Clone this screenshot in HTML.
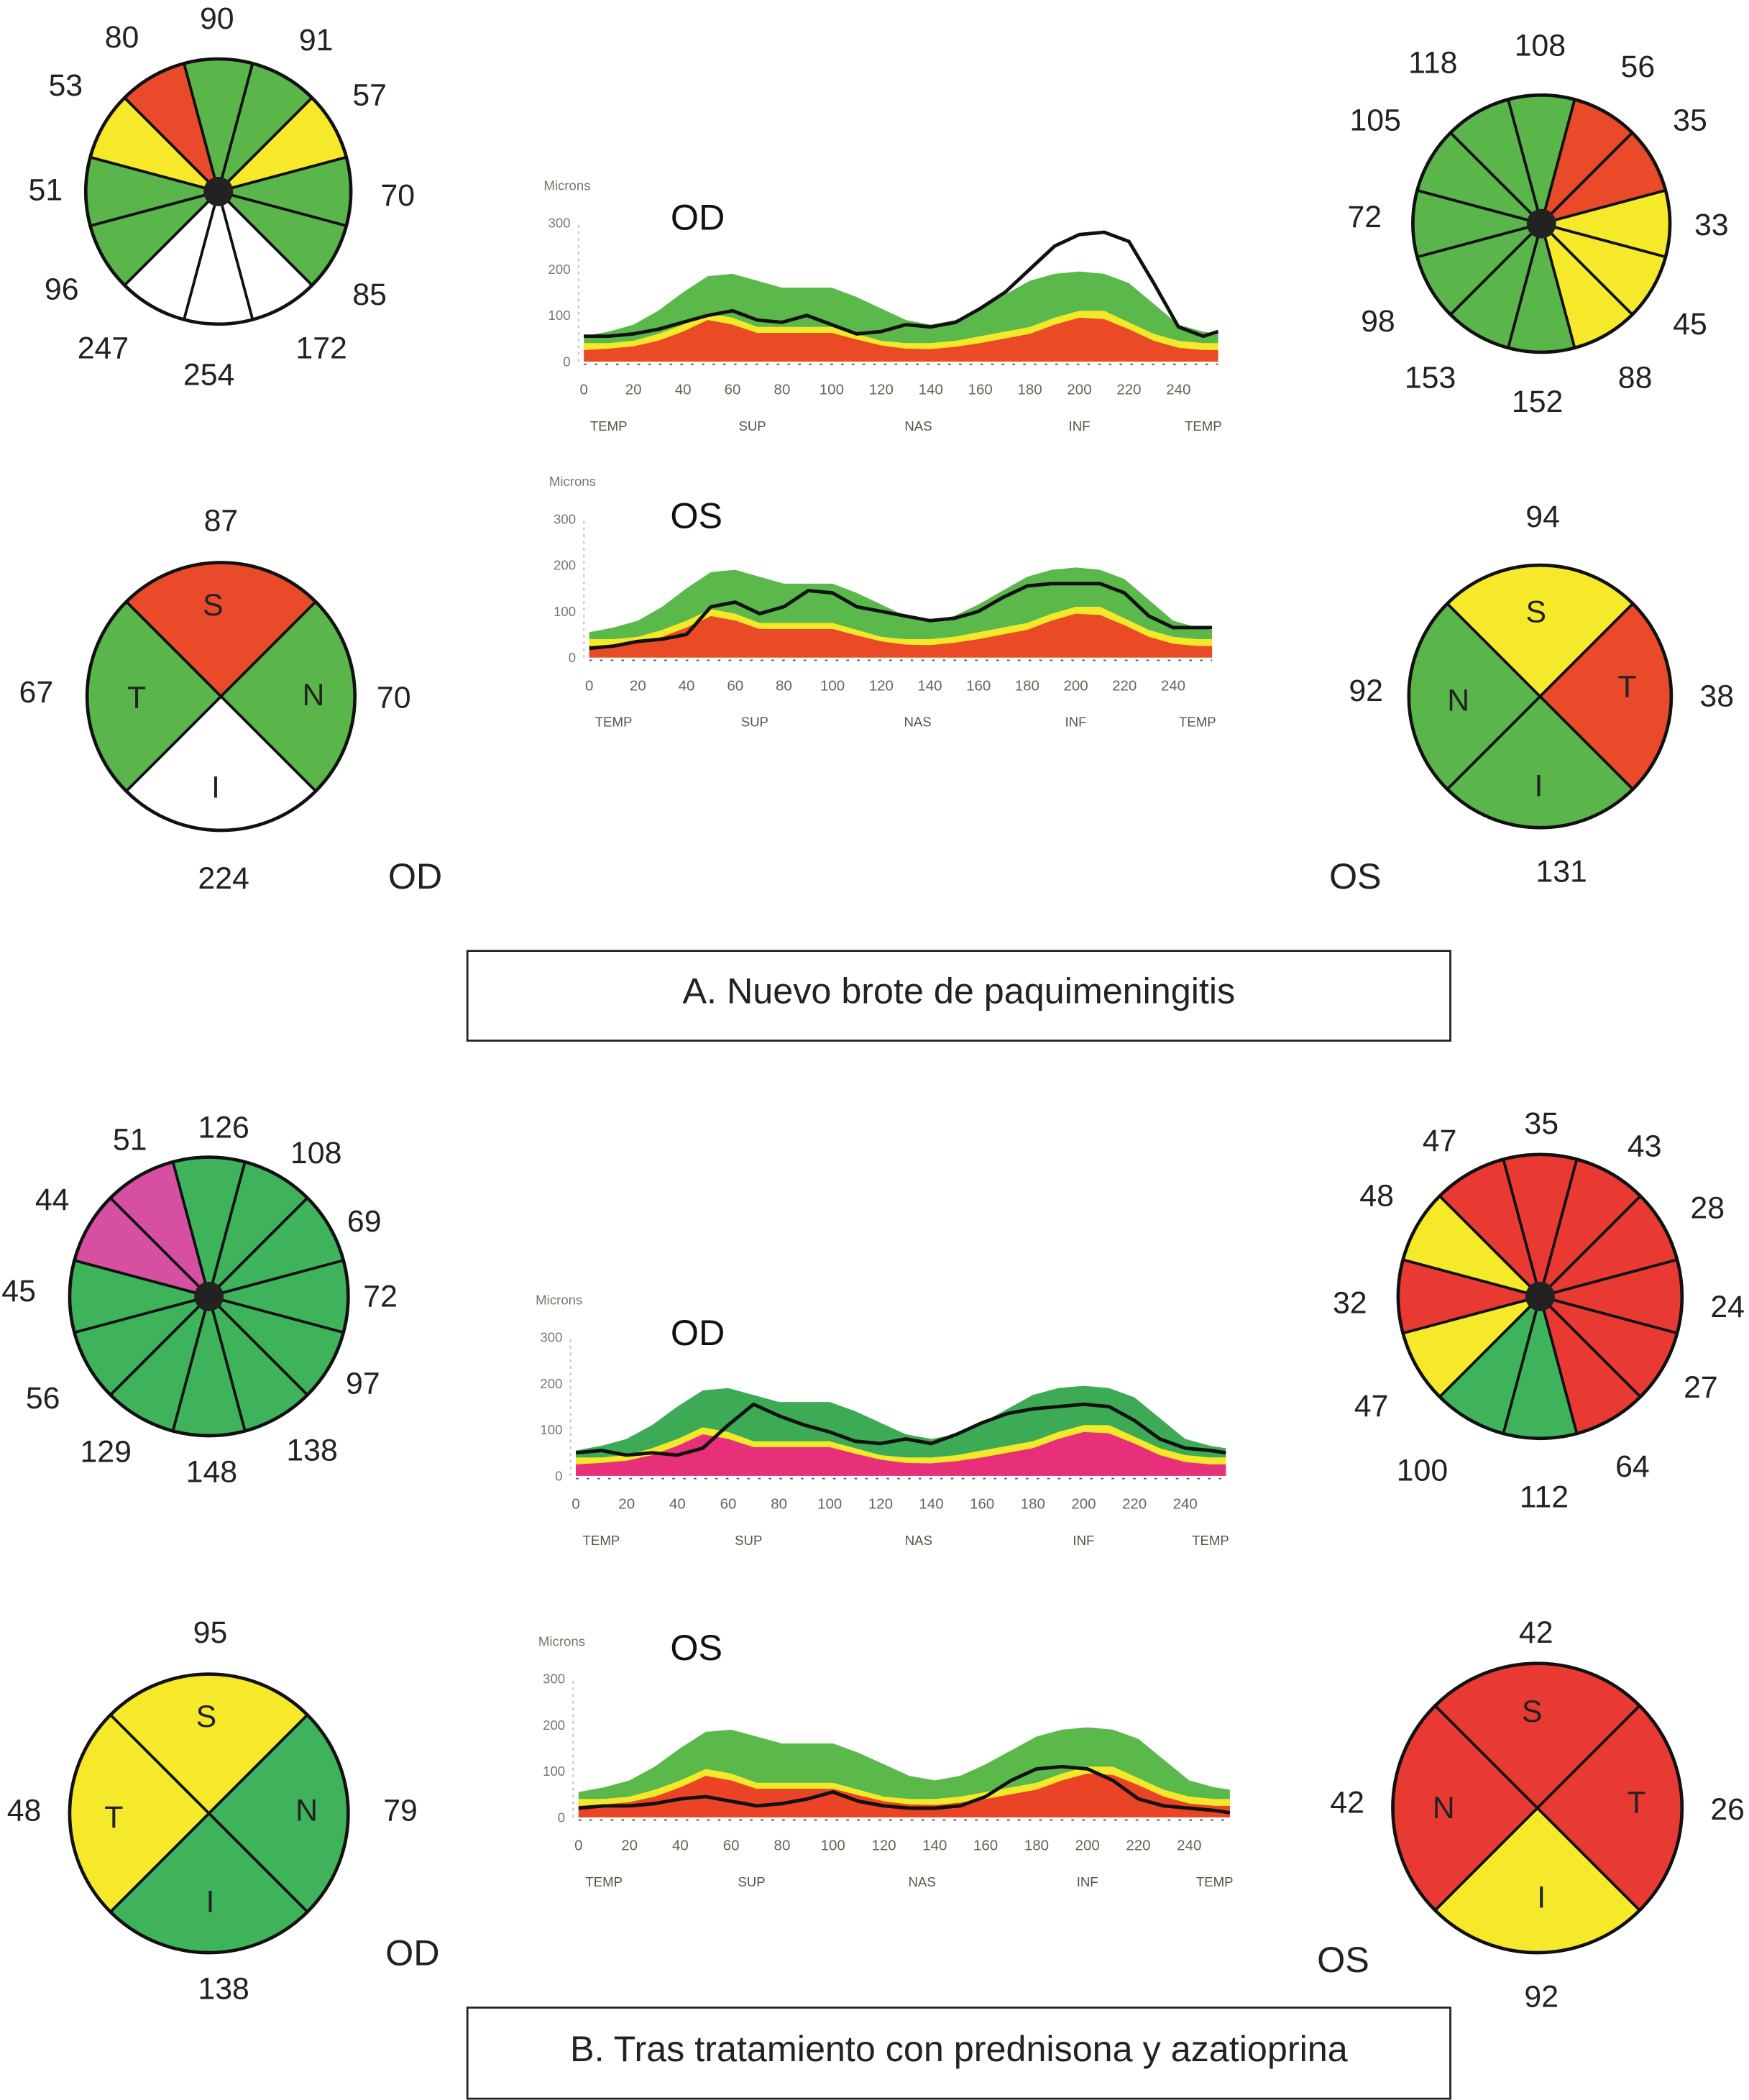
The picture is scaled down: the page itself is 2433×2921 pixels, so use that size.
<!DOCTYPE html>
<html><head><meta charset="utf-8"><style>
html,body{margin:0;padding:0;background:#fff}
svg{display:block}
text{font-family:"Liberation Sans",sans-serif}
</style></head><body>
<svg id="fig" xmlns="http://www.w3.org/2000/svg" width="2433" height="2921" viewBox="0 0 1306 1568">
<rect width="1306" height="1568" fill="#fff"/>
<g>
<rect x="349" y="710" width="734" height="67" fill="#fff" stroke="#222" stroke-width="1.5"/>
<text x="716" y="749" font-size="27" text-anchor="middle" fill="#222">A. Nuevo brote de paquimeningitis</text>
</g>
<g>
<rect x="349" y="1499" width="734" height="68" fill="#fff" stroke="#222" stroke-width="1.5"/>
<text x="716" y="1539" font-size="27" text-anchor="middle" fill="#222">B. Tras tratamiento con prednisona y azatioprina</text>
</g>
<g id="layer"></g>
</svg>
<script>
// ---- chart data (x in degrees-like units 0..256, y in microns) ----
const xs = [0,10,20,30,40,50,60,70,80,90,100,110,120,130,140,150,160,170,180,190,200,210,220,230,240,250,256];
const normGreen  = [55,65,80,110,150,185,190,175,160,160,160,140,115,90,80,90,115,145,175,190,195,190,170,125,80,65,60];
const normYellow = [40,40,45,60,80,105,95,75,75,75,75,60,45,40,40,45,55,65,75,95,110,110,85,60,45,40,40];
const normRed    = [25,28,33,45,65,90,80,62,62,62,62,48,35,28,27,32,40,50,60,80,95,92,70,45,30,25,25];
const measAOD = [55,55,60,70,85,100,110,90,85,100,80,60,65,80,75,85,115,150,200,250,275,280,260,170,75,55,65];
const measAOS = [20,25,35,40,50,110,120,95,110,145,140,110,100,90,80,85,100,130,155,160,160,160,140,90,65,65,65];
const measBOD = [50,55,45,50,45,60,110,155,130,110,95,75,70,80,70,90,115,135,145,150,155,150,120,80,60,55,50];
const measBOS = [20,25,25,30,40,45,35,25,30,40,55,35,25,20,20,25,45,80,105,110,105,80,40,25,20,15,10];
const xTicks = [0,20,40,60,80,100,120,140,160,180,200,220,240];
const yTicks = [0,100,200,300];
const regions = ["TEMP","SUP","NAS","INF","TEMP"];
const regionPos = [10,68,135,200,250];

// ---- sector data ----
const clockAODvals = [90,91,57,70,85,172,254,247,96,51,53,80];
const clockAOSvals = [108,56,35,33,45,88,152,153,98,72,105,118];
const clockBODvals = [126,108,69,72,97,138,148,129,56,45,44,51];
const clockBOSvals = [35,43,28,24,27,64,112,100,47,32,48,47];

const NS="http://www.w3.org/2000/svg";
const layer=document.getElementById('layer');
function mk(tag,attrs,parent){const e=document.createElementNS(NS,tag);for(const k in attrs)e.setAttribute(k,attrs[k]);(parent||layer).appendChild(e);return e;}
function txt(x,y,s,size,parent,fill,anchor){const t=mk('text',{x:x,y:y,'font-size':size,'text-anchor':anchor||'middle','dominant-baseline':'central',fill:fill||'#222'},parent);t.textContent=s;return t;}

function chart(name,cfg,meas,redCol,greenCol){
  const g=mk('g',{});
  
  
  const sx=v=>cfg.x0+(v/240)*(cfg.x240-cfg.x0);
  const sy=v=>cfg.y0-v*cfg.k;
  function area(arr,col,nm){
    let d='M'+sx(xs[0])+','+sy(0);
    xs.forEach((x,i)=>{d+=' L'+sx(x)+','+sy(arr[i]);});
    d+=' L'+sx(xs[xs.length-1])+','+sy(0)+' Z';
    const p=mk('path',{d:d,fill:col},g);
    
    
  }
  area(normGreen,greenCol,'normal-band');
  area(normYellow,'#f4e82a','borderline-band');
  area(normRed,redCol,'abnormal-band');
  const ln=mk('polyline',{points:xs.map((x,i)=>sx(x)+','+sy(meas[i])).join(' '),fill:'none',stroke:'#111','stroke-width':2.6,'stroke-linejoin':'round'},g);
  
  
  mk('line',{x1:sx(0)-4,y1:sy(0),x2:sx(0)-4,y2:sy(300),stroke:'#bbb','stroke-width':1,'stroke-dasharray':'2,3'},g);
  mk('line',{x1:sx(0),y1:sy(0)+2,x2:sx(256),y2:sy(0)+2,stroke:'#555','stroke-width':1,'stroke-dasharray':'2,6'},g);
  yTicks.forEach(v=>{const t=txt(sx(0)-10,sy(v),String(v),10,g,'#777','end');});
  xTicks.forEach(v=>{const t=txt(sx(v),sy(0)+21,String(v),11,g,'#665','middle');});
  regions.forEach((r,i)=>{const t=txt(sx(regionPos[i]),sy(0)+48,r,10,g,'#554','middle');});
  const m=txt(sx(0)-30,sy(300)-28,'Microns',10,g,'#776','start');
  
  const e=txt(cfg.lx,cfg.ly,cfg.eye,27,g,'#111','middle');
  
}
chart('chart-a-od',{x0:436,x240:880,y0:270,k:0.345,lx:521,ly:162,eye:'OD'},measAOD,'#ea4a26','#5bb84a');
chart('chart-a-os',{x0:440,x240:876,y0:491,k:0.345,lx:520,ly:385,eye:'OS'},measAOS,'#ea4a26','#5bb84a');
chart('chart-b-od',{x0:430,x240:885,y0:1102,k:0.345,lx:521,ly:995,eye:'OD'},measBOD,'#e8307a','#3daa55');
chart('chart-b-os',{x0:432,x240:888,y0:1357,k:0.345,lx:520,ly:1230,eye:'OS'},measBOS,'#ea4326','#5bb84a');

const G='#5ab54b',Y='#f6e92a',R='#e84a2a',W='#ffffff',GB='#3fb35c',M='#d64fa0',RB='#e83a33';
function pt(cx,cy,r,a){return [cx+r*Math.sin(a),cy-r*Math.cos(a)];}
function clock(name,cx,cy,r,cols,vals,labels){
  const g=mk('g',{});
  
  
  for(let i=0;i<12;i++){
    const a1=(i-0.5)*Math.PI/6,a2=(i+0.5)*Math.PI/6;
    const p1=pt(cx,cy,r,a1),p2=pt(cx,cy,r,a2);
    const p=mk('path',{d:`M${cx},${cy} L${p1[0]},${p1[1]} A${r},${r} 0 0 1 ${p2[0]},${p2[1]} Z`,fill:cols[i],stroke:'#111','stroke-width':2},g);
    
    
    const t=txt(labels[i][0],labels[i][1],String(vals[i]),23,g);
    
  }
  mk('circle',{cx:cx,cy:cy,r:r,fill:'none',stroke:'#111','stroke-width':2.5},g);
  mk('circle',{cx:cx,cy:cy,r:11,fill:'#222'},g);
}
clock('clock-a-od',163,143,99,[G,G,Y,G,G,W,W,W,G,G,Y,R],clockAODvals,
 [[162,14],[236,30],[276,71],[297,146],[276,220],[240,260],[156,280],[77,260],[46,216],[34,142],[49,64],[91,28]]);
clock('clock-a-os',1151,167,96,[G,R,R,Y,Y,Y,G,G,G,G,G,G],clockAOSvals,
 [[1150,34],[1223,50],[1262,90],[1278,168],[1262,242],[1221,282],[1148,300],[1068,282],[1029,240],[1019,162],[1027,90],[1070,47]]);
clock('clock-b-od',156,968,104,[GB,GB,GB,GB,GB,GB,GB,GB,GB,GB,M,M],clockBODvals,
 [[167,842],[236,861],[272,912],[284,968],[271,1033],[233,1083],[158,1099],[79,1084],[32,1044],[14,964],[39,896],[97,851]]);
clock('clock-b-os',1150,968,106,[RB,RB,RB,RB,RB,RB,GB,GB,Y,RB,Y,RB],clockBOSvals,
 [[1151,839],[1228,856],[1275,902],[1290,976],[1270,1036],[1219,1095],[1153,1118],[1062,1098],[1024,1050],[1008,973],[1028,893],[1075,852]]);

// quadrant: order top,right,bottom,left
function quad(name,cx,cy,r,cols,letters,lpos,vals,vpos,eye,epos){
  const g=mk('g',{});
  
  
  for(let i=0;i<4;i++){
    const a1=(i*2-1)*Math.PI/4,a2=(i*2+1)*Math.PI/4;
    const p1=pt(cx,cy,r,a1),p2=pt(cx,cy,r,a2);
    const p=mk('path',{d:`M${cx},${cy} L${p1[0]},${p1[1]} A${r},${r} 0 0 1 ${p2[0]},${p2[1]} Z`,fill:cols[i],stroke:'#111','stroke-width':2},g);
    
    
    const l=txt(lpos[i][0],lpos[i][1],letters[i],23,g);
    
    const v=txt(vpos[i][0],vpos[i][1],String(vals[i]),23,g);
    
  }
  mk('circle',{cx:cx,cy:cy,r:r,fill:'none',stroke:'#111','stroke-width':2.5},g);
  const e=txt(epos[0],epos[1],eye,27,g);
  
}
quad('quadrant-a-od',165,520,100,[R,G,W,G],['S','N','I','T'],[[159,452],[234,519],[161,588],[102,521]],[87,70,224,67],[[165,389],[294,521],[167,656],[27,517]],'OD',[310,654]);
quad('quadrant-a-os',1150,520,98,[Y,R,G,G],['S','T','I','N'],[[1147,457],[1215,513],[1149,587],[1089,523]],[94,38,131,92],[[1152,386],[1282,520],[1166,651],[1020,516]],'OS',[1012,654]);
quad('quadrant-b-od',156,1354,104,[Y,GB,GB,Y],['S','N','I','T'],[[154,1282],[229,1352],[157,1420],[85,1357]],[95,79,138,48],[[157,1219],[299,1352],[167,1485],[18,1352]],'OD',[308,1458]);
quad('quadrant-b-os',1148,1350,108,[RB,RB,Y,RB],['S','T','I','N'],[[1144,1278],[1222,1346],[1151,1417],[1078,1350]],[42,26,92,42],[[1147,1219],[1290,1351],[1151,1491],[1006,1346]],'OS',[1003,1463]);
</script>
</body></html>
